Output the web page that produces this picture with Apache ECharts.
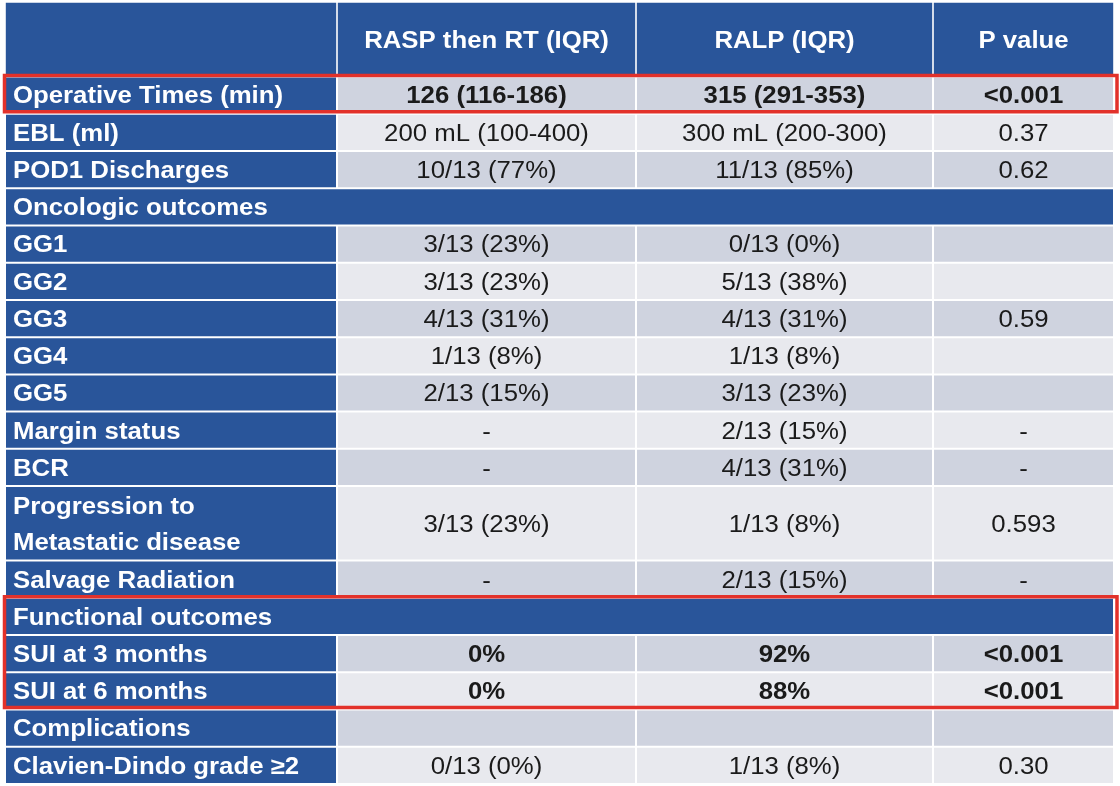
<!DOCTYPE html>
<html>
<head>
<meta charset="utf-8">
<script src="https://cdn.jsdelivr.net/npm/echarts@6/dist/echarts.min.js"></script>
<style>
  html, body { margin: 0; padding: 0; background: #ffffff; }
  #main { width: 1120px; height: 786px; }
</style>
</head>
<body>
<div id="main"></div>
<script>
// table content
const headerLabels = ['', 'RASP then RT (IQR)', 'RALP (IQR)', 'P value'];
const rowLabels = [
  'Operative Times (min)', 'EBL (ml)', 'POD1 Discharges', 'Oncologic outcomes',
  'GG1', 'GG2', 'GG3', 'GG4', 'GG5', 'Margin status', 'BCR',
  'Progression to\nMetastatic disease', 'Salvage Radiation', 'Functional outcomes',
  'SUI at 3 months', 'SUI at 6 months', 'Complications', 'Clavien-Dindo grade ≥2'
];
const raspValues = [
  '126 (116-186)', '200 mL (100-400)', '10/13 (77%)', '',
  '3/13 (23%)', '3/13 (23%)', '4/13 (31%)', '1/13 (8%)', '2/13 (15%)', '-', '-',
  '3/13 (23%)', '-', '',
  '0%', '0%', '', '0/13 (0%)'
];
const ralpValues = [
  '315 (291-353)', '300 mL (200-300)', '11/13 (85%)', '',
  '0/13 (0%)', '5/13 (38%)', '4/13 (31%)', '1/13 (8%)', '3/13 (23%)', '2/13 (15%)', '4/13 (31%)',
  '1/13 (8%)', '2/13 (15%)', '',
  '92%', '88%', '', '1/13 (8%)'
];
const pValues = [
  '<0.001', '0.37', '0.62', '',
  '', '', '0.59', '', '', '-', '-',
  '0.593', '-', '',
  '<0.001', '<0.001', '', '0.30'
];
const sectionLabels = ['Oncologic outcomes', 'Functional outcomes'];
const boldLabels = ['Operative Times (min)', 'SUI at 3 months', 'SUI at 6 months'];
const highlightRanges = [
  ['Operative Times (min)', 'Operative Times (min)'],
  ['Functional outcomes', 'SUI at 6 months']
];

// layout
const colWidths = [332, 299, 297, 181];
const headerSpan = 2;
const BLUE = '#29559a', DARK = '#cfd3df', LIGHT = '#e8e9ee', INK = '#1a1a1a', RED = '#e2312a';
const FONT = '"Liberation Sans", Arial, Helvetica, sans-serif';
const STRETCH = 1.12;

const colStarts = [];
let acc = 0;
colWidths.forEach(w => { colStarts.push(acc); acc += w; });
const totalWidth = acc;

// rows: header first, then one per label
const rows = [{ kind: 'header', top: 0, span: headerSpan, texts: headerLabels }];
let rowCursor = headerSpan;
rowLabels.forEach((label, i) => {
  const span = label.split('\n').length;
  rows.push({
    kind: sectionLabels.includes(label) ? 'section' : 'data',
    top: rowCursor, span: span,
    texts: [label, raspValues[i], ralpValues[i], pValues[i]],
    shade: i % 2 === 0 ? DARK : LIGHT,
    bold: boldLabels.includes(label)
  });
  rowCursor += span;
});
const totalUnits = rowCursor;

const cellData = [];
rows.forEach((row, r) => {
  const n = row.kind === 'section' ? 1 : 4;
  for (let c = 0; c < n; c++) cellData.push([c, r]);
});

const boxData = highlightRanges.map(([a, b]) => [rowLabels.indexOf(a) + 1, rowLabels.indexOf(b) + 1]);

function renderCell(params, api) {
  const c = api.value(0), r = api.value(1);
  const row = rows[r];
  const full = row.kind === 'section';
  const x0 = colStarts[c];
  const x1 = full ? totalWidth : colStarts[c] + colWidths[c];
  const p0 = api.coord([x0, row.top]);
  const p1 = api.coord([x1, row.top + row.span]);
  const gap = row.kind === 'header' ? 0.8 : 1;
  const onBlue = row.kind !== 'data' || c === 0;
  const leftText = c === 0 && row.kind !== 'header';
  const bold = onBlue || row.bold;
  return {
    type: 'group',
    children: [
      {
        type: 'rect',
        shape: { x: p0[0] + gap, y: p0[1] + gap, width: p1[0] - p0[0] - 2 * gap, height: p1[1] - p0[1] - 2 * gap },
        style: { fill: onBlue ? BLUE : row.shade }
      },
      {
        type: 'text',
        x: leftText ? p0[0] + 8 : (p0[0] + p1[0]) / 2,
        y: (p0[1] + p1[1]) / 2 + 2,
        scaleX: STRETCH,
        style: {
          text: row.texts[c] || '',
          fill: onBlue ? '#ffffff' : INK,
          font: (bold ? 'bold ' : '') + '23px ' + FONT,
          textAlign: leftText ? 'left' : 'center',
          textVerticalAlign: 'middle',
          lineHeight: 36
        }
      }
    ]
  };
}

function renderBox(params, api) {
  const a = rows[api.value(0)], b = rows[api.value(1)];
  const p0 = api.coord([-0.5, a.top]);
  const p1 = api.coord([totalWidth + 3, b.top + b.span]);
  return {
    type: 'rect',
    shape: { x: p0[0], y: p0[1] - 1, width: p1[0] - p0[0], height: p1[1] - p0[1] - 1 },
    style: { fill: 'none', stroke: RED, lineWidth: 3.5 }
  };
}

var myChart = echarts.init(document.getElementById('main'));
myChart.setOption({
  animation: false,
  backgroundColor: '#ffffff',
  grid: { left: 5, top: 2, width: totalWidth, height: 782 },
  xAxis: { type: 'value', min: 0, max: totalWidth, show: false },
  yAxis: { type: 'value', min: 0, max: totalUnits, inverse: true, show: false },
  series: [
    { type: 'custom', name: 'cells', renderItem: renderCell, data: cellData, clip: false, silent: true },
    { type: 'custom', name: 'highlight', renderItem: renderBox, data: boxData, clip: false, silent: true, z: 5 }
  ]
});
</script>
</body>
</html>
